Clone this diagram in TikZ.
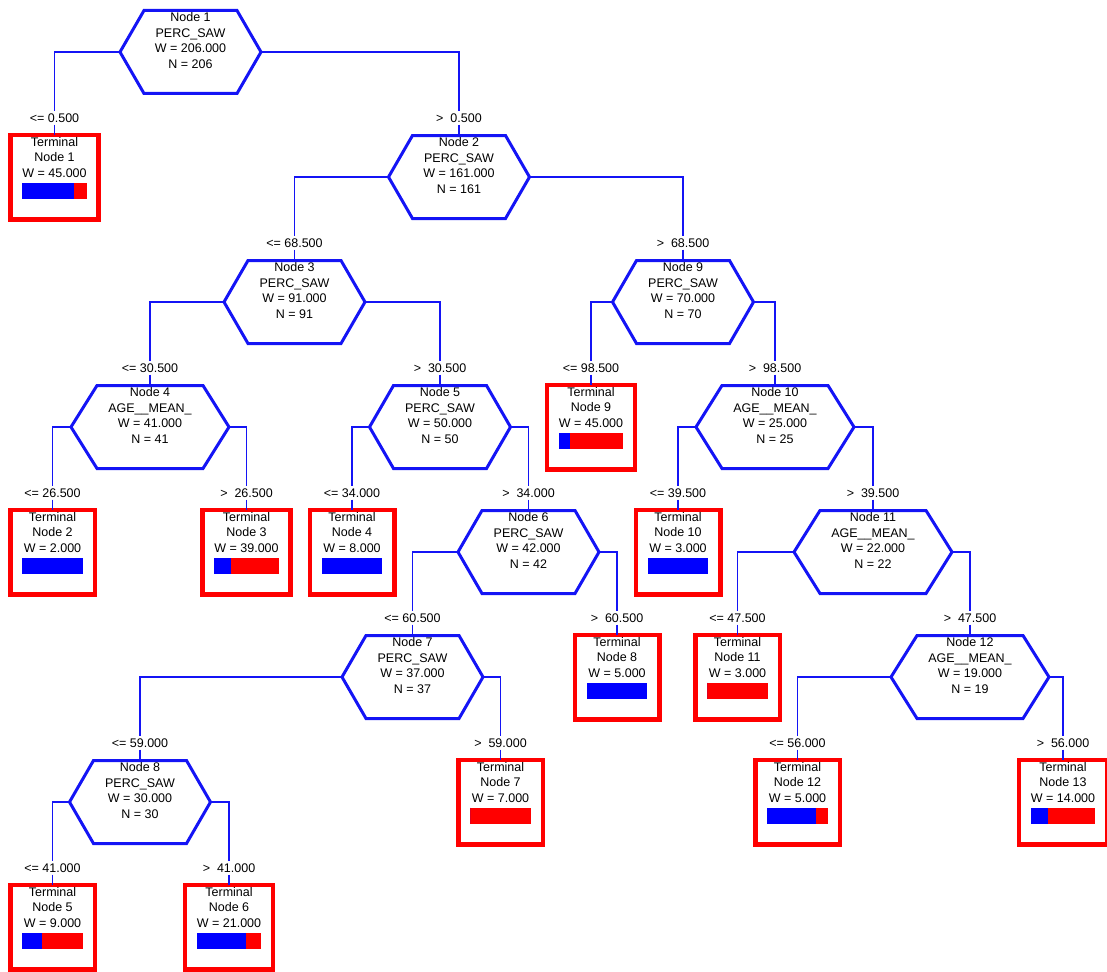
\documentclass[tikz,border=0pt]{standalone}
\usepackage{fontspec}
\setmainfont{Liberation Sans}
\usetikzlibrary{calc}

\definecolor{splitblue}{RGB}{20,20,245}
\definecolor{barblue}{RGB}{0,0,255}
\definecolor{termred}{RGB}{255,0,0}

\tikzset{
  split/.style={minimum width=141pt, minimum height=83pt, inner sep=0pt, outer sep=0pt,
    align=center, text depth=23.5pt},
  wide/.style={minimum width=158pt},
  term/.style={draw=termred, line width=4.5pt, minimum width=84.5pt, minimum height=84.5pt,
    inner xsep=12pt, inner ysep=0pt, outer sep=0pt, align=center, text depth=40pt},
  cut/.style={inner sep=2pt},
  edge/.style={splitblue, line width=1.2pt},
  hexline/.style={splitblue, line width=3pt, line join=miter},
}

\begin{document}
\begin{tikzpicture}[x=1pt, y=-1pt, font=\fontsize{12.5pt}{15.5pt}\selectfont]
    \useasboundingbox (0,0) rectangle (1107,971);

    % Split nodes
    \node[split] (n1) at (190.5,52) {Node 1\\PERC\_SAW\\W = 206.000\\N = 206};
    \node[split] (n2) at (459,177) {Node 2\\PERC\_SAW\\W = 161.000\\N = 161};
    \node[split] (n3) at (294.5,302) {Node 3\\PERC\_SAW\\W = 91.000\\N = 91};
    \node[split] (n9) at (683,302) {Node 9\\PERC\_SAW\\W = 70.000\\N = 70};
    \node[split, wide] (n4) at (150,427) {Node 4\\AGE\_\_MEAN\_\\W = 41.000\\N = 41};
    \node[split] (n5) at (440,427) {Node 5\\PERC\_SAW\\W = 50.000\\N = 50};
    \node[split, wide] (n10) at (775,427) {Node 10\\AGE\_\_MEAN\_\\W = 25.000\\N = 25};
    \node[split] (n6) at (528.5,552) {Node 6\\PERC\_SAW\\W = 42.000\\N = 42};
    \node[split, wide] (n11) at (873,552) {Node 11\\AGE\_\_MEAN\_\\W = 22.000\\N = 22};
    \node[split] (n7) at (412.5,677) {Node 7\\PERC\_SAW\\W = 37.000\\N = 37};
    \node[split, wide] (n12) at (970,677) {Node 12\\AGE\_\_MEAN\_\\W = 19.000\\N = 19};
    \node[split] (n8) at (140,802) {Node 8\\PERC\_SAW\\W = 30.000\\N = 30};

    % Terminal nodes
    \node[term] (t1) at (54.5,177) {Terminal\\Node 1\\W = 45.000};
    \node[term] (t9) at (591,427) {Terminal\\Node 9\\W = 45.000};
    \node[term] (t2) at (52.5,552) {Terminal\\Node 2\\W = 2.000};
    \node[term] (t3) at (246.5,552) {Terminal\\Node 3\\W = 39.000};
    \node[term] (t4) at (352,552) {Terminal\\Node 4\\W = 8.000};
    \node[term] (t10) at (678,552) {Terminal\\Node 10\\W = 3.000};
    \node[term] (t8) at (617,677) {Terminal\\Node 8\\W = 5.000};
    \node[term] (t11) at (737.5,677) {Terminal\\Node 11\\W = 3.000};
    \node[term] (t7) at (500.5,802) {Terminal\\Node 7\\W = 7.000};
    \node[term] (t12) at (797.5,802) {Terminal\\Node 12\\W = 5.000};
    \node[term] (t13) at (1063,802) {Terminal\\Node 13\\W = 14.000};
    \node[term] (t5) at (52.5,927) {Terminal\\Node 5\\W = 9.000};
    \node[term] (t6) at (229,927) {Terminal\\Node 6\\W = 21.000};

    % Branches with their cut values
    \foreach \p/\s/\c/\l in {
        n1/west/t1/{<= 0.500}, n1/east/n2/{>\ \ 0.500},
        n2/west/n3/{<= 68.500}, n2/east/n9/{>\ \ 68.500},
        n3/west/n4/{<= 30.500}, n3/east/n5/{>\ \ 30.500},
        n9/west/t9/{<= 98.500}, n9/east/n10/{>\ \ 98.500},
        n4/west/t2/{<= 26.500}, n4/east/t3/{>\ \ 26.500},
        n5/west/t4/{<= 34.000}, n5/east/n6/{>\ \ 34.000},
        n10/west/t10/{<= 39.500}, n10/east/n11/{>\ \ 39.500},
        n6/west/n7/{<= 60.500}, n6/east/t8/{>\ \ 60.500},
        n11/west/t11/{<= 47.500}, n11/east/n12/{>\ \ 47.500},
        n7/west/n8/{<= 59.000}, n7/east/t7/{>\ \ 59.000},
        n12/west/t12/{<= 56.000}, n12/east/t13/{>\ \ 56.000},
        n8/west/t5/{<= 41.000}, n8/east/t6/{>\ \ 41.000}} {
        \node[cut] (l\c) at ([yshift=59pt]\c.center) {\l};
        \draw[edge] (\p.\s) -| (l\c);
        \draw[edge] (l\c) -- (\c);
    }

    % Hexagon outlines
    \foreach \n/\k in {n1/24, n2/24, n3/24, n9/24, n4/26, n5/24, n10/26,
                       n6/24, n11/26, n7/24, n12/26, n8/24} {
        \draw[hexline] (\n.west) -- ([xshift=\k pt]\n.north west) -- ([xshift=-\k pt]\n.north east)
            -- (\n.east) -- ([xshift=-\k pt]\n.south east) -- ([xshift=\k pt]\n.south west) -- cycle;
    }

    % Class bars
    \foreach \t/\f in {t1/0.8, t2/1, t3/0.26, t4/1, t5/0.33, t6/0.77, t7/0,
                       t8/1, t9/0.17, t10/1, t11/0, t12/0.8, t13/0.27} {
        \coordinate (bl) at ([shift={(12pt,-5.5pt)}]\t.west);
        \coordinate (tr) at ([shift={(-12pt,-21.5pt)}]\t.east);
        \coordinate (mid) at ($(bl)!\f!(tr)$);
        \fill[termred] (bl) rectangle (tr);
        \fill[barblue] (bl) rectangle (mid |- tr);
    }
\end{tikzpicture}
\end{document}
